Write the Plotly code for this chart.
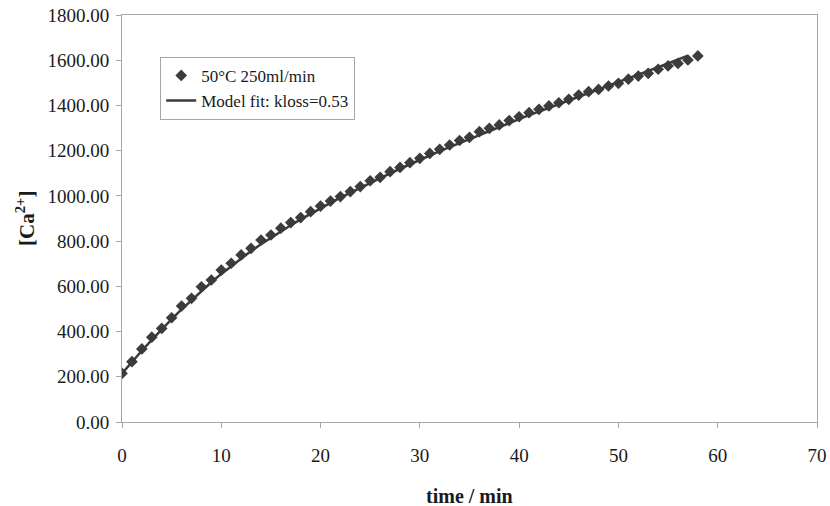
import plotly.graph_objects as go

# Measured calcium concentration, one reading per minute
time_meas = list(range(0, 59))
ca_meas = [215, 267, 323, 375, 414, 461, 513, 547, 598, 628,
           672, 702, 739, 768, 805, 827, 857, 882, 904, 930,
           955, 977, 997, 1019, 1041, 1067, 1082, 1107, 1126, 1147,
           1166, 1188, 1206, 1225, 1245, 1259, 1284, 1299, 1314, 1333,
           1350, 1368, 1383, 1398, 1412, 1427, 1446, 1461, 1471, 1486,
           1498, 1516, 1530, 1542, 1560, 1575, 1586, 1601, 1619]

# Model curve (kloss = 0.53)
time_model = list(range(0, 58))
ca_model = [215, 266, 315, 363, 410, 455, 498, 539, 579, 618,
            655, 690, 724, 756, 786, 815, 843, 870, 896, 921,
            945, 969, 992, 1014, 1036, 1058, 1079, 1100, 1120, 1140,
            1160, 1179, 1198, 1216, 1234, 1252, 1270, 1288, 1305, 1323,
            1340, 1357, 1373, 1390, 1406, 1422, 1438, 1455, 1471, 1488,
            1504, 1520, 1536, 1553, 1569, 1585, 1602, 1620]

x_ticks = [0, 10, 20, 30, 40, 50, 60, 70]
y_ticks = [0, 200, 400, 600, 800, 1000, 1200, 1400, 1600, 1800]

FONT = "Liberation Serif, Times New Roman, serif"
AXIS_GREY = "#a6a6a6"
MARK = "#3c3c3c"

fig = go.Figure()

fig.add_trace(go.Scatter(
    x=time_meas, y=ca_meas, mode="markers",
    name="50°C 250ml/min",
    marker=dict(symbol="diamond", size=9, color=MARK, line=dict(width=0)),
))

fig.add_trace(go.Scatter(
    x=time_model, y=ca_model, mode="lines",
    name="Model fit: kloss=0.53",
    line=dict(color="#3a3a3a", width=2.5),
))

axis_common = dict(
    showline=True, linecolor=AXIS_GREY, linewidth=1, mirror=True,
    showgrid=False, zeroline=False, automargin=False,
    ticks="outside", ticklen=5, tickcolor=AXIS_GREY,
    tickfont=dict(family=FONT, size=19, color="#1a1a1a"),
)

fig.update_xaxes(range=[0, 70], tickvals=x_ticks,
                 ticktext=[str(v) for v in x_ticks],
                 ticklabelstandoff=11, **axis_common)
fig.update_yaxes(range=[0, 1800], tickvals=y_ticks,
                 ticktext=[f"{v:.2f}" for v in y_ticks],
                 ticklabelstandoff=3, **axis_common)

fig.add_annotation(text="<b>time / min</b>", xref="paper", yref="paper",
                   x=0.5, y=-0.181, yanchor="middle", showarrow=False,
                   font=dict(family=FONT, size=20, color="#1a1a1a"))
fig.add_annotation(text="<b>[Ca<sup>2+</sup>]</b>", xref="paper", yref="paper",
                   x=-0.139, y=0.5, xanchor="center", textangle=-90,
                   showarrow=False,
                   font=dict(family=FONT, size=21, color="#1a1a1a"))

fig.update_layout(
    width=830, height=506,
    margin=dict(l=122, r=13, t=15, b=84, autoexpand=False),
    paper_bgcolor="white", plot_bgcolor="white",
    showlegend=True,
    legend=dict(
        x=0.055, y=0.897, xanchor="left", yanchor="top",
        bgcolor="white", bordercolor=AXIS_GREY, borderwidth=1,
        font=dict(family=FONT, size=17, color="#1a1a1a"),
        tracegroupgap=0, itemwidth=30,
    ),
)

fig.write_html("out.html")
